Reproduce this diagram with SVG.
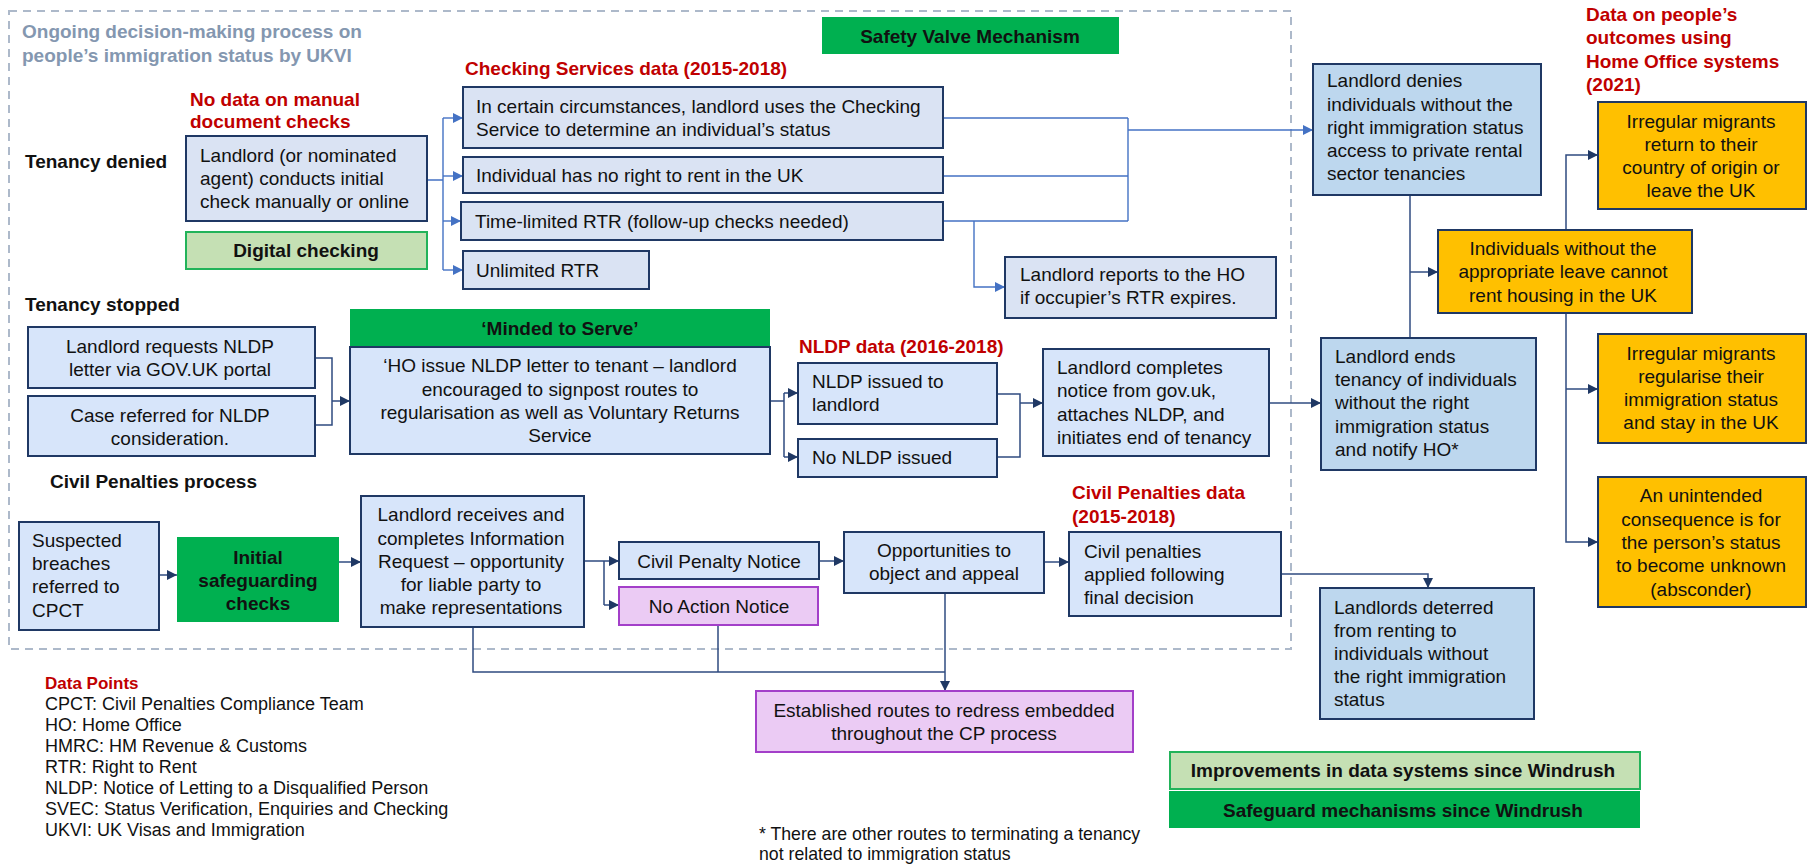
<svg xmlns="http://www.w3.org/2000/svg" width="1807" height="865" viewBox="0 0 1807 865">
  <style>
    text { font-family: "Liberation Sans", Arial, sans-serif; font-size: 19px; fill: #111; }
    .b { font-weight: bold; }
    .c { text-anchor: middle; }
    .red { fill: #C00000; font-weight: bold; }
    .grey { fill: #8497B0; font-weight: bold; }
    .key { font-size: 18px; }
    .keyhead { font-size: 17px; }
    .note { font-size: 17.7px; }
    .box { stroke: #1F3864; stroke-width: 2; }
    .pale { fill: #DAE3F3; }
    .blue { fill: #D7E5FA; }
    .mid { fill: #BDD7EE; }
    .amber { fill: #FFC000; }
    .lilac { fill: #EBCBF4; stroke: #A33FC9; stroke-width: 2; }
    .green { fill: #00B050; }
    .lgreen { fill: #C5E0B4; stroke: #22B35A; stroke-width: 2; }
    .frame { fill: none; stroke: #ADB9CA; stroke-width: 2; stroke-dasharray: 8 6; }
    .lt { fill: none; stroke: #4472C4; stroke-width: 1.4; }
    .dk { fill: none; stroke: #2F4B80; stroke-width: 1.5; }
  </style>
  <defs>
    <marker id="arrowLight" viewBox="0 0 10 10" refX="10" refY="5" markerWidth="11" markerHeight="10" markerUnits="userSpaceOnUse" orient="auto">
      <path d="M0,0 L10,5 L0,10 z" fill="#4472C4"/>
    </marker>
    <marker id="arrowDark" viewBox="0 0 10 10" refX="10" refY="5" markerWidth="11" markerHeight="10" markerUnits="userSpaceOnUse" orient="auto">
      <path d="M0,0 L10,5 L0,10 z" fill="#1F3864"/>
    </marker>
  </defs>
  <rect width="1807" height="865" fill="#fff"/>

  <!-- dashed process frame -->
  <rect class="frame" x="9" y="11" width="1282" height="638"/>
  <g id="frame-title">
    <text class="grey" x="22" y="38">Ongoing decision-making process on</text>
    <text class="grey" x="22" y="62">people’s immigration status by UKVI</text>
  </g>

  <!-- section labels -->
  <g id="labels">
    <text class="b" x="25" y="168">Tenancy denied</text>
    <text class="b" x="25" y="311">Tenancy stopped</text>
    <text class="b" x="50" y="488">Civil Penalties process</text>
    <text class="red" x="190" y="106">No data on manual</text>
    <text class="red" x="190" y="128">document checks</text>
    <text class="red" x="465" y="75">Checking Services data (2015-2018)</text>
    <text class="red" x="799" y="353">NLDP data (2016-2018)</text>
    <text class="red" x="1072" y="499">Civil Penalties data</text>
    <text class="red" x="1072" y="523">(2015-2018)</text>
    <text class="red" x="1586" y="21">Data on people’s</text>
    <text class="red" x="1586" y="44">outcomes using</text>
    <text class="red" x="1586" y="68">Home Office systems</text>
    <text class="red" x="1586" y="91">(2021)</text>
  </g>

  <!-- connectors -->
  <g id="connectors">
    <path class="lt" d="M427,180 H443 M443,118 V270"/>
    <path class="lt" d="M443,118 H463" marker-end="url(#arrowLight)"/>
    <path class="lt" d="M443,176 H463" marker-end="url(#arrowLight)"/>
    <path class="lt" d="M443,221 H461" marker-end="url(#arrowLight)"/>
    <path class="lt" d="M443,270 H463" marker-end="url(#arrowLight)"/>
    <path class="lt" d="M943,118 H1128 M943,176 H1128 M943,221 H1128 M1128,118 V221"/>
    <path class="lt" d="M1128,130 H1313" marker-end="url(#arrowLight)"/>
    <path class="lt" d="M974,221 V287 H1005" marker-end="url(#arrowLight)"/>

    <path class="dk" d="M315,358 H332 V425 H315"/>
    <path class="dk" d="M332,401 H350" marker-end="url(#arrowDark)"/>
    <path class="dk" d="M770,401 H784 M784,393 V457"/>
    <path class="dk" d="M784,393 H798" marker-end="url(#arrowDark)"/>
    <path class="dk" d="M784,457 H798" marker-end="url(#arrowDark)"/>
    <path class="dk" d="M997,394 H1020 V457 H997"/>
    <path class="dk" d="M1020,403 H1043" marker-end="url(#arrowDark)"/>
    <path class="dk" d="M1269,403 H1321" marker-end="url(#arrowDark)"/>

    <path class="dk" d="M159,575 H177" marker-end="url(#arrowDark)"/>
    <path class="dk" d="M339,562 H361" marker-end="url(#arrowDark)"/>
    <path class="dk" d="M584,561 H604 M604,561 V605"/>
    <path class="dk" d="M604,561 H619" marker-end="url(#arrowDark)"/>
    <path class="dk" d="M604,605 H619" marker-end="url(#arrowDark)"/>
    <path class="dk" d="M819,561 H844" marker-end="url(#arrowDark)"/>
    <path class="dk" d="M1044,562 H1069" marker-end="url(#arrowDark)"/>
    <path class="dk" d="M1281,574 H1428 V588" marker-end="url(#arrowDark)"/>
    <path class="dk" d="M473,627 V672 H945 M718,625 V672"/>
    <path class="dk" d="M945,593 V691" marker-end="url(#arrowDark)"/>

    <path class="dk" d="M1410,195 V348"/>
    <path class="dk" d="M1410,272 H1438" marker-end="url(#arrowDark)"/>
    <path class="dk" d="M1566,230 V155 H1598" marker-end="url(#arrowDark)"/>
    <path class="dk" d="M1566,313 V542 H1598" marker-end="url(#arrowDark)"/>
    <path class="dk" d="M1566,389 H1598" marker-end="url(#arrowDark)"/>
  </g>

  <!-- tenancy denied -->
  <g id="n-initial-check">
    <rect class="box pale" x="186" y="136" width="241" height="85"/>
    <text x="200" y="162">Landlord (or nominated</text>
    <text x="200" y="185">agent) conducts initial</text>
    <text x="200" y="208">check manually or online</text>
  </g>
  <g id="n-digital-checking">
    <rect class="lgreen" x="186" y="232" width="241" height="37"/>
    <text class="b c" x="306" y="257">Digital checking</text>
  </g>
  <g id="n-checking-service">
    <rect class="box pale" x="463" y="87" width="480" height="61"/>
    <text x="476" y="113">In certain circumstances, landlord uses the Checking</text>
    <text x="476" y="136">Service to determine an individual’s status</text>
  </g>
  <g id="n-no-right">
    <rect class="box pale" x="463" y="157" width="480" height="36"/>
    <text x="476" y="182">Individual has no right to rent in the UK</text>
  </g>
  <g id="n-time-limited">
    <rect class="box pale" x="461" y="202" width="482" height="38"/>
    <text x="475" y="228">Time-limited RTR (follow-up checks needed)</text>
  </g>
  <g id="n-unlimited">
    <rect class="box pale" x="463" y="251" width="186" height="38"/>
    <text x="476" y="277">Unlimited RTR</text>
  </g>
  <g id="n-reports">
    <rect class="box pale" x="1005" y="257" width="271" height="61"/>
    <text x="1020" y="281">Landlord reports to the HO</text>
    <text x="1020" y="304">if occupier’s RTR expires.</text>
  </g>
  <g id="n-safety-valve">
    <rect class="green" x="822" y="17" width="297" height="37"/>
    <text class="b c" x="970" y="43">Safety Valve Mechanism</text>
  </g>

  <!-- outcomes -->
  <g id="n-denies">
    <rect class="box mid" x="1313" y="64" width="228" height="131"/>
    <text x="1327" y="87">Landlord denies</text>
    <text x="1327" y="111">individuals without the</text>
    <text x="1327" y="134">right immigration status</text>
    <text x="1327" y="157">access to private rental</text>
    <text x="1327" y="180">sector tenancies</text>
  </g>
  <g id="n-return">
    <rect class="box amber" x="1598" y="102" width="208" height="107"/>
    <text class="c" x="1701" y="128">Irregular migrants</text>
    <text class="c" x="1701" y="151">return to their</text>
    <text class="c" x="1701" y="174">country of origin or</text>
    <text class="c" x="1701" y="197">leave the UK</text>
  </g>
  <g id="n-cannot-rent">
    <rect class="box amber" x="1438" y="230" width="254" height="83"/>
    <text class="c" x="1563" y="255">Individuals without the</text>
    <text class="c" x="1563" y="278">appropriate leave cannot</text>
    <text class="c" x="1563" y="302">rent housing in the UK</text>
  </g>
  <g id="n-regularise">
    <rect class="box amber" x="1598" y="334" width="208" height="109"/>
    <text class="c" x="1701" y="360">Irregular migrants</text>
    <text class="c" x="1701" y="383">regularise their</text>
    <text class="c" x="1701" y="406">immigration status</text>
    <text class="c" x="1701" y="429">and stay in the UK</text>
  </g>
  <g id="n-unknown">
    <rect class="box amber" x="1598" y="477" width="208" height="130"/>
    <text class="c" x="1701" y="502">An unintended</text>
    <text class="c" x="1701" y="526">consequence is for</text>
    <text class="c" x="1701" y="549">the person’s status</text>
    <text class="c" x="1701" y="572">to become unknown</text>
    <text class="c" x="1701" y="596">(absconder)</text>
  </g>
  <g id="n-ends">
    <rect class="box mid" x="1321" y="338" width="215" height="132"/>
    <text x="1335" y="363">Landlord ends</text>
    <text x="1335" y="386">tenancy of individuals</text>
    <text x="1335" y="409">without the right</text>
    <text x="1335" y="433">immigration status</text>
    <text x="1335" y="456">and notify HO*</text>
  </g>
  <g id="n-deterred">
    <rect class="box mid" x="1320" y="588" width="214" height="131"/>
    <text x="1334" y="614">Landlords deterred</text>
    <text x="1334" y="637">from renting to</text>
    <text x="1334" y="660">individuals without</text>
    <text x="1334" y="683">the right immigration</text>
    <text x="1334" y="706">status</text>
  </g>

  <!-- tenancy stopped -->
  <g id="n-request">
    <rect class="box blue" x="28" y="327" width="287" height="61"/>
    <text class="c" x="170" y="353">Landlord requests NLDP</text>
    <text class="c" x="170" y="376">letter via GOV.UK portal</text>
  </g>
  <g id="n-case">
    <rect class="box blue" x="28" y="396" width="287" height="60"/>
    <text class="c" x="170" y="422">Case referred for NLDP</text>
    <text class="c" x="170" y="445">consideration.</text>
  </g>
  <g id="n-minded">
    <rect class="green" x="350" y="309" width="420" height="38"/>
    <text class="b c" x="560" y="335">‘Minded to Serve’</text>
    <rect class="box blue" x="350" y="347" width="420" height="107"/>
    <text class="c" x="560" y="372">‘HO issue NLDP letter to tenant – landlord</text>
    <text class="c" x="560" y="396">encouraged to signpost routes to</text>
    <text class="c" x="560" y="419">regularisation as well as Voluntary Returns</text>
    <text class="c" x="560" y="442">Service</text>
  </g>
  <g id="n-nldp-issued">
    <rect class="box blue" x="798" y="363" width="199" height="61"/>
    <text x="812" y="388">NLDP issued to</text>
    <text x="812" y="411">landlord</text>
  </g>
  <g id="n-no-nldp">
    <rect class="box blue" x="798" y="439" width="199" height="38"/>
    <text x="812" y="464">No NLDP issued</text>
  </g>
  <g id="n-completes">
    <rect class="box blue" x="1043" y="349" width="226" height="107"/>
    <text x="1057" y="374">Landlord completes</text>
    <text x="1057" y="397">notice from gov.uk,</text>
    <text x="1057" y="421">attaches NLDP, and</text>
    <text x="1057" y="444">initiates end of tenancy</text>
  </g>

  <!-- civil penalties -->
  <g id="n-suspected">
    <rect class="box blue" x="19" y="522" width="140" height="108"/>
    <text x="32" y="547">Suspected</text>
    <text x="32" y="570">breaches</text>
    <text x="32" y="593">referred to</text>
    <text x="32" y="617">CPCT</text>
  </g>
  <g id="n-safeguarding">
    <rect class="green" x="177" y="537" width="162" height="85"/>
    <text class="b c" x="258" y="564">Initial</text>
    <text class="b c" x="258" y="587">safeguarding</text>
    <text class="b c" x="258" y="610">checks</text>
  </g>
  <g id="n-receives">
    <rect class="box blue" x="361" y="496" width="223" height="131"/>
    <text class="c" x="471" y="521">Landlord receives and</text>
    <text class="c" x="471" y="545">completes Information</text>
    <text class="c" x="471" y="568">Request – opportunity</text>
    <text class="c" x="471" y="591">for liable party to</text>
    <text class="c" x="471" y="614">make representations</text>
  </g>
  <g id="n-penalty-notice">
    <rect class="box blue" x="619" y="542" width="200" height="37"/>
    <text class="c" x="719" y="568">Civil Penalty Notice</text>
  </g>
  <g id="n-no-action">
    <rect class="lilac" x="619" y="587" width="199" height="38"/>
    <text class="c" x="719" y="613">No Action Notice</text>
  </g>
  <g id="n-appeal">
    <rect class="box blue" x="844" y="532" width="200" height="61"/>
    <text class="c" x="944" y="557">Opportunities to</text>
    <text class="c" x="944" y="580">object and appeal</text>
  </g>
  <g id="n-applied">
    <rect class="box blue" x="1069" y="532" width="212" height="84"/>
    <text x="1084" y="558">Civil penalties</text>
    <text x="1084" y="581">applied following</text>
    <text x="1084" y="604">final decision</text>
  </g>
  <g id="n-redress">
    <rect class="lilac" x="756" y="691" width="377" height="61"/>
    <text class="c" x="944" y="717">Established routes to redress embedded</text>
    <text class="c" x="944" y="740">throughout the CP process</text>
  </g>

  <!-- key and notes -->
  <g id="data-points">
    <text class="red keyhead" x="45" y="689">Data Points</text>
    <text class="key" x="45" y="710">CPCT: Civil Penalties Compliance Team</text>
    <text class="key" x="45" y="731">HO: Home Office</text>
    <text class="key" x="45" y="752">HMRC: HM Revenue &amp; Customs</text>
    <text class="key" x="45" y="773">RTR: Right to Rent</text>
    <text class="key" x="45" y="794">NLDP: Notice of Letting to a Disqualified Person</text>
    <text class="key" x="45" y="815">SVEC: Status Verification, Enquiries and Checking</text>
    <text class="key" x="45" y="836">UKVI: UK Visas and Immigration</text>
  </g>
  <g id="footnote">
    <text class="note" x="759" y="840">* There are other routes to terminating a tenancy</text>
    <text class="note" x="759" y="860">not related to immigration status</text>
  </g>
  <g id="legend-improvements">
    <rect class="lgreen" x="1170" y="752" width="470" height="37"/>
    <text class="b c" x="1403" y="777">Improvements in data systems since Windrush</text>
  </g>
  <g id="legend-safeguards">
    <rect class="green" x="1169" y="791" width="471" height="37"/>
    <text class="b c" x="1403" y="817">Safeguard mechanisms since Windrush</text>
  </g>
</svg>
